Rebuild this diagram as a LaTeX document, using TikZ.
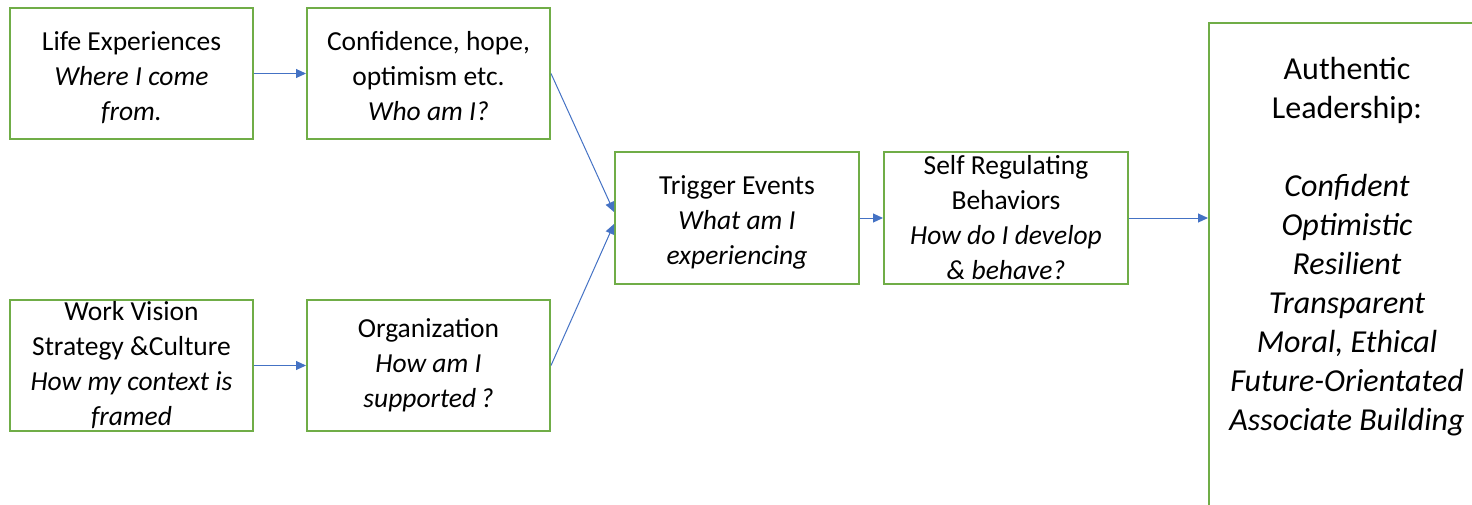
\documentclass[tikz,border=0pt]{standalone}
\usepackage{fontspec}
\setmainfont{Carlito}
\usetikzlibrary{arrows.meta,calc}
\definecolor{boxgreen}{HTML}{70AD47}
\definecolor{linkblue}{HTML}{4472C4}
% a taller first line drops the text block a little inside its box
\newcommand{\firstline}{\rule{0pt}{28pt}}
\newcommand{\lowline}{\rule{0pt}{24pt}}
\begin{document}
\begin{tikzpicture}[x=1pt,y=-1pt,
  stagebox/.style={draw=boxgreen, line width=2pt, minimum width=243pt,
    minimum height=131pt, inner sep=0pt, align=center,
    font=\fontsize{27.5}{35}\selectfont},
  bigtext/.style={align=center, inner sep=0pt, font=\fontsize{32}{39}\selectfont},
  link/.style={draw=linkblue, line width=1pt, -{Triangle[length=10pt,width=9pt]}}]
\clip (0,0) rectangle (1472,504);
% left column
\node[stagebox] (life) at (131.5,73.5) {\firstline Life Experiences\\\textit{Where I come}\\\textit{from.}};
\node[stagebox] (work) at (131.5,365.5) {Work Vision\\Strategy \&Culture\\\textit{How my context is}\\\textit{framed}};
% second column
\node[stagebox] (conf) at (428.5,73.5) {\lowline Confidence, hope,\\optimism etc.\\\textit{Who am I?}};
\node[stagebox] (org) at (428.5,365.5) {Organization\\\textit{How am I}\\\textit{supported\,?}};
% middle
\node[stagebox, minimum width=244pt, minimum height=132pt] (trig) at (737,218) {\firstline Trigger Events\\\textit{What am I}\\\textit{experiencing}};
\node[stagebox, minimum width=244pt, minimum height=132pt] (self) at (1006,218) {Self Regulating\\Behaviors\\\textit{How do I develop}\\\textit{\& behave?}};
% outcome box, running off the page
\node[draw=boxgreen, line width=2pt, anchor=north west, minimum width=280pt,
  minimum height=540pt, inner sep=0pt] (auth) at (1208,22) {};
\node[bigtext] (authtxt) at (1347,247) {Authentic\\Leadership:\\[39pt]
  \textit{Confident}\\\textit{Optimistic}\\\textit{Resilient}\\\textit{Transparent}\\
  \textit{Moral, Ethical}\\\textit{Future-Orientated}\\\textit{Associate Building}};
% connectors
\draw[link] (life.east) -- (conf.west);
\draw[link] (work.east) -- (org.west);
\draw[link] (conf.east) -- ($(trig.west)+(0,-6)$);
\draw[link] (org.east) -- ($(trig.west)+(0,6)$);
\draw[link] (trig.east) -- (self.west);
\draw[link] (self.east) -- (self.east -| auth.west);
\end{tikzpicture}
\end{document}
